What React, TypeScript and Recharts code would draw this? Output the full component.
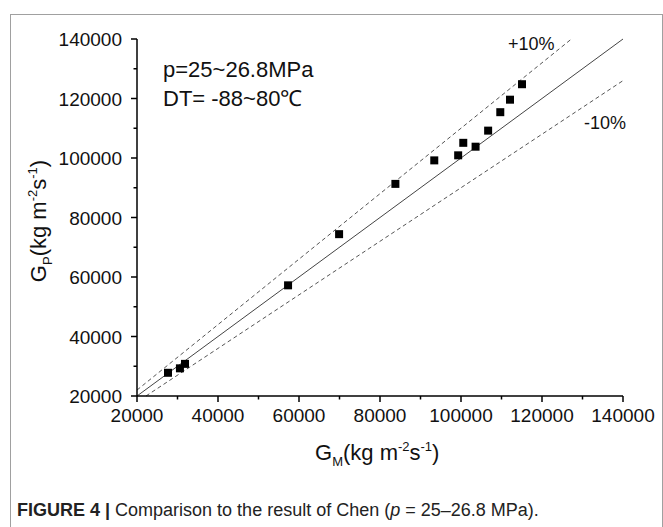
import { ScatterChart, Scatter, XAxis, YAxis, ReferenceLine, Label } from 'recharts'

const FONT = '"Liberation Sans", Arial, sans-serif'

// measured (G_M) vs predicted (G_P), kg m^-2 s^-1
const gM = [27650, 30600, 31850, 57300, 69900, 83800, 93400, 99300, 100560, 103600, 106700, 109700, 112100, 115060]
const gP = [27800, 29300, 30800, 57200, 74400, 91300, 99200, 100900, 105100, 103800, 109200, 115400, 119600, 124800]

const ticks = [20000, 30000, 40000, 50000, 60000, 70000, 80000, 90000, 100000, 110000, 120000, 130000, 140000]

const points = gM.map((x, i) => ({ x, y: gP[i] }))

const XTick = ({ x, y, payload }: any) => {
  const major = payload.value % 20000 === 0
  return (
    <g>
      <line x1={x} y1={y} x2={x} y2={y + (major ? 6 : 3.5)} stroke="#000" strokeWidth={1.5} />
      {major && (
        <text x={x} y={y + 26} textAnchor="middle" fontSize={19} fontFamily={FONT} fill="#111">
          {payload.value}
        </text>
      )}
    </g>
  )
}

const YTick = ({ x, y, payload }: any) => {
  const major = payload.value % 20000 === 0
  return (
    <g>
      <line x1={x} y1={y} x2={x - (major ? 6 : 3.5)} y2={y} stroke="#000" strokeWidth={1.5} />
      {major && (
        <text x={x - 15} y={y + 7} textAnchor="end" fontSize={19} fontFamily={FONT} fill="#111">
          {payload.value}
        </text>
      )}
    </g>
  )
}

const XTitle = () => (
  <text x={315} y={460} fontSize={22} fontFamily={FONT} fill="#111">
    G<tspan fontSize={13} dy={6}>M</tspan>
    <tspan dy={-6}>(kg m</tspan>
    <tspan fontSize={13} dy={-9}>-2</tspan>
    <tspan dy={9}>s</tspan>
    <tspan fontSize={13} dy={-9}>-1</tspan>
    <tspan dy={9}>)</tspan>
  </text>
)

const YTitle = () => (
  <text x={0} y={0} transform="translate(46,221) rotate(-90)" textAnchor="middle" fontSize={22} fontFamily={FONT} fill="#111">
    G<tspan fontSize={13} dy={6}>P</tspan>
    <tspan dy={-6}>(kg m</tspan>
    <tspan fontSize={13} dy={-9}>-2</tspan>
    <tspan dy={9}>s</tspan>
    <tspan fontSize={13} dy={-9}>-1</tspan>
    <tspan dy={9}>)</tspan>
  </text>
)

export default function App() {
  return (
    <div style={{ position: 'absolute', left: 0, top: 0, width: 663, height: 527, overflow: 'hidden', background: '#fff', fontFamily: FONT }}>
      <div style={{ position: 'absolute', left: 10, top: 14, width: 651, height: 600, border: '1.5px solid #a0a0a0' }} />
      <div style={{ position: 'absolute', left: 0, top: 0 }}>
        <ScatterChart width={663} height={527} margin={{ top: 39, right: 40, bottom: 101, left: 77 }}>
          <XAxis
            type="number"
            dataKey="x"
            domain={[20000, 140000]}
            ticks={ticks}
            interval={0}
            tickSize={0}
            tickMargin={0}
            height={30}
            tick={<XTick />}
            axisLine={{ stroke: '#000', strokeWidth: 1.5 }}
            allowDataOverflow
          >
            <Label content={() => <XTitle />} />
          </XAxis>
          <YAxis
            type="number"
            dataKey="y"
            domain={[20000, 140000]}
            ticks={ticks}
            interval={0}
            tickSize={0}
            tickMargin={0}
            width={60}
            tick={<YTick />}
            axisLine={{ stroke: '#000', strokeWidth: 1.5 }}
            allowDataOverflow
          >
            <Label content={() => <YTitle />} />
          </YAxis>
          <ReferenceLine segment={[{ x: 20000, y: 20000 }, { x: 140000, y: 140000 }]} stroke="#444" strokeWidth={1} />
          <ReferenceLine segment={[{ x: 20000, y: 22000 }, { x: 127273, y: 140000 }]} stroke="#555" strokeWidth={1} strokeDasharray="4 3" />
          <ReferenceLine segment={[{ x: 22222, y: 20000 }, { x: 140000, y: 126000 }]} stroke="#555" strokeWidth={1} strokeDasharray="4 3" />
          <Scatter data={points} shape="square" fill="#000" isAnimationActive={false} legendType="none" />
        </ScatterChart>
      </div>
      <svg width={663} height={527} style={{ position: 'absolute', left: 0, top: 0, pointerEvents: 'none' }}>
        <text x={163} y={77} fontSize={22} fontFamily={FONT} fill="#111">p=25~26.8MPa</text>
        <text x={163} y={106} fontSize={22} fontFamily={FONT} fill="#111">DT= -88~80℃</text>
        <text x={508} y={50} fontSize={18} fontFamily={FONT} fill="#111">+10%</text>
        <text x={584} y={129} fontSize={18} fontFamily={FONT} fill="#111">-10%</text>
      </svg>
      <div style={{ position: 'absolute', left: 17, top: 500, fontSize: 18, color: '#222', whiteSpace: 'nowrap' }}>
        <b>FIGURE 4 |</b> Comparison to the result of Chen (<i>p</i> = 25–26.8 MPa).
      </div>
    </div>
  )
}
